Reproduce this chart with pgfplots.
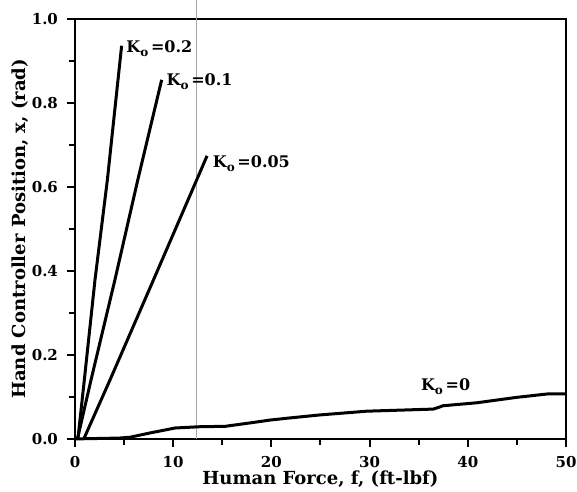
\documentclass[border=0pt]{standalone}
\usepackage{fontspec}
\setmainfont{DejaVu Serif}
\usepackage{pgfplots}
\pgfplotsset{compat=1.18}
\newcommand{\Ko}{K\raisebox{-0.45ex}{\fontsize{6}{6}\selectfont o}}
\begin{document}
\begin{tikzpicture}
\begin{axis}[
  scale only axis,
  width=245.5pt, height=210pt,
  xmin=0, xmax=50, ymin=0, ymax=1.0,
  xtick={0,10,...,50}, minor xtick={5,15,...,45},
  ytick={0,0.2,...,1.0}, minor ytick={0.1,0.3,...,0.9},
  tick align=outside, tick pos=left,
  major tick length=4pt, minor tick length=3pt,
  every tick/.style={line width=1pt, black},
  axis line style={line width=1.3pt},
  /pgf/number format/assume math mode=true,
  /pgf/number format/.cd, fixed, fixed zerofill, precision=1, /tikz/.cd,
  xticklabel={\pgfmathprintnumber[fixed, precision=0]{\tick}},
  ticklabel style={font=\fontsize{7.5}{8}\selectfont\bfseries},
  xticklabel style={yshift=-1pt},
  yticklabel style={xshift=-1pt},
  xlabel={Human Force, f, (ft-lbf)},
  ylabel={Hand Controller Position, x, (rad)},
  label style={font=\fontsize{9}{10}\selectfont\bfseries},
  xlabel style={yshift=5pt},
  ylabel style={yshift=-5pt},
  clip=false,
]
% scan artefact line
\addplot[gray!70, line width=0.5pt] coordinates {(12.4,0) (12.4,1.045)};
% K0 = 0.2
\addplot[black, line width=1.5pt] coordinates {(0.3,0) (0.95,0.14) (2.04,0.379) (3.3,0.617) (4.75,0.936)};
% K0 = 0.1
\addplot[black, line width=1.5pt] coordinates {(0.25,0) (1.63,0.14) (4.07,0.379) (6.4,0.617) (8.83,0.855)};
% K0 = 0.05
\addplot[black, line width=1.5pt] coordinates {(0.9,0) (3.56,0.14) (8.0,0.379) (12.4,0.617) (13.45,0.674)};
% K0 = 0
\addplot[black, line width=1.5pt] coordinates {(0,0) (4.5,0.002) (5.6,0.004) (7.6,0.014) (10.2,0.026) (12.7,0.029) (15.3,0.030) (17.8,0.038) (19.9,0.045) (21.9,0.050) (24.9,0.057) (29.7,0.066) (36.5,0.071) (37.5,0.079) (40.9,0.086) (45,0.099) (48.1,0.107) (50,0.107)};
\node[anchor=west, font=\fontsize{8}{9}\selectfont\bfseries, inner sep=1pt] at (axis cs:5.0,0.930) {\Ko\,=0.2};
\node[anchor=west, font=\fontsize{8}{9}\selectfont\bfseries, inner sep=1pt] at (axis cs:9.1,0.850) {\Ko\,=0.1};
\node[anchor=west, font=\fontsize{8}{9}\selectfont\bfseries, inner sep=1pt] at (axis cs:13.8,0.655) {\Ko\,=0.05};
\node[anchor=south west, font=\fontsize{8}{9}\selectfont\bfseries, inner sep=1pt] at (axis cs:35.0,0.100) {\Ko\,=0};
\coordinate (bl) at (rel axis cs:-0.1527,-0.126);
\coordinate (tr) at (rel axis cs:1.0224,1.045);
\end{axis}
\pgfresetboundingbox
\path[use as bounding box] (bl) rectangle (tr);
\end{tikzpicture}
\end{document}
